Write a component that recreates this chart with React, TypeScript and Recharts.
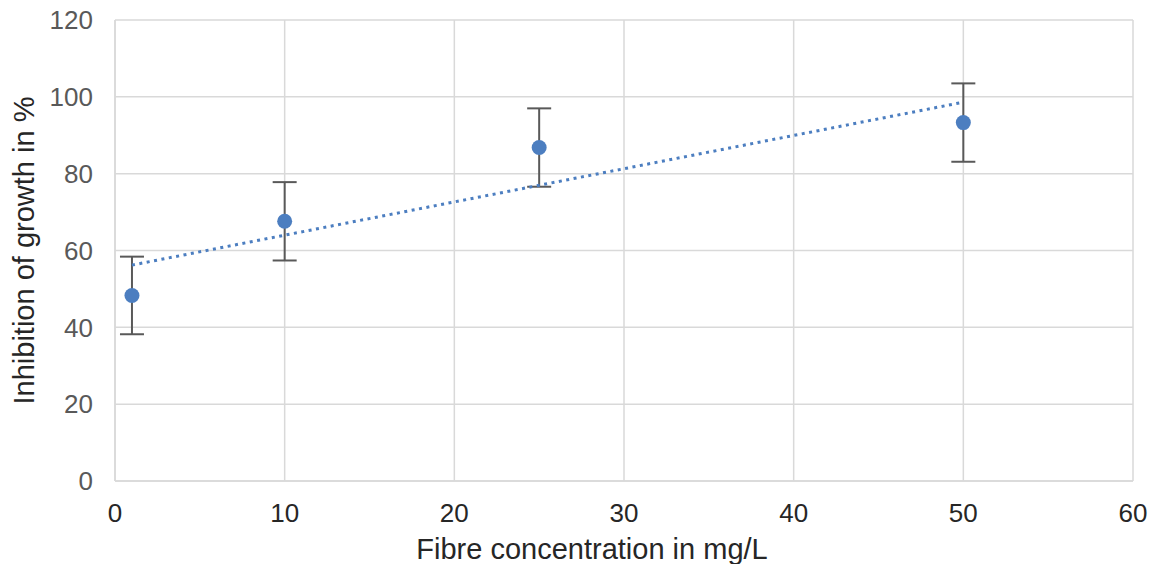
import React from 'react';
import { ScatterChart, Scatter, XAxis, YAxis, CartesianGrid, ErrorBar, ZAxis } from 'recharts';

const concentrations = [1, 10, 25, 50];
const inhibition = [48.3, 67.6, 86.8, 93.3];
const errors = [10.1, 10.2, 10.2, 10.2];
const trendX = [1, 50];
const trendY = [56.2, 98.6];
const xTicks = [0, 10, 20, 30, 40, 50, 60];
const yTicks = [0, 20, 40, 60, 80, 100, 120];

const points = concentrations.map((x, i) => ({ x, y: inhibition[i], err: errors[i] }));
const trend = trendX.map((x, i) => ({ x, y: trendY[i] }));

const BLUE = '#4c7ec0';
const FONT = '"Liberation Sans", Arial, sans-serif';

const Dot = (props: any) => <circle cx={props.cx} cy={props.cy} r={7.5} fill={BLUE} />;

export default function App() {
  return (
    <div style={{ position: 'absolute', left: 0, top: 0, width: 1153, height: 564, background: '#fff' }}>
      <ScatterChart width={1153} height={564} margin={{ top: 20, right: 20, bottom: 0, left: 0 }}>
        <CartesianGrid stroke="#d9d9d9" strokeWidth={1.5} />
        <ZAxis range={[150, 150]} />
        <XAxis
          type="number"
          dataKey="x"
          domain={[0, 60]}
          ticks={xTicks}
          height={83}
          tickSize={0}
          tickMargin={23}
          axisLine={{ stroke: '#d9d9d9', strokeWidth: 1.5 }}
          tick={{ fill: '#262626', fontSize: 26, fontFamily: FONT }}
          label={{
            content: (p: any) => {
              const vb = p.viewBox;
              return (
                <text x={vb.x + vb.width / 2 - 32} y={559} textAnchor="middle" fill="#262626" fontSize={29} fontFamily={FONT}>
                  Fibre concentration in mg/L
                </text>
              );
            },
          }}
        />
        <YAxis
          type="number"
          dataKey="y"
          domain={[0, 120]}
          ticks={yTicks}
          width={115}
          tickSize={0}
          tickMargin={22}
          axisLine={{ stroke: '#d9d9d9', strokeWidth: 1.5 }}
          tick={{ fill: '#595959', fontSize: 26, fontFamily: FONT }}
          label={{
            content: (p: any) => {
              const vb = p.viewBox;
              const cy = vb.y + vb.height / 2;
              return (
                <text x={34} y={cy} transform={`rotate(-90, 34, ${cy})`} textAnchor="middle" fill="#262626" fontSize={29} fontFamily={FONT}>
                  Inhibition of growth in %
                </text>
              );
            },
          }}
        />
        <Scatter
          data={trend}
          isAnimationActive={false}
          line={{ stroke: BLUE, strokeWidth: 3, strokeDasharray: '3 4.5' }}
          shape={() => null}
        />
        <Scatter data={points} isAnimationActive={false} shape={Dot}>
          <ErrorBar dataKey="err" direction="y" width={12} stroke="#595959" strokeWidth={2} isAnimationActive={false} />
        </Scatter>
      </ScatterChart>
    </div>
  );
}
